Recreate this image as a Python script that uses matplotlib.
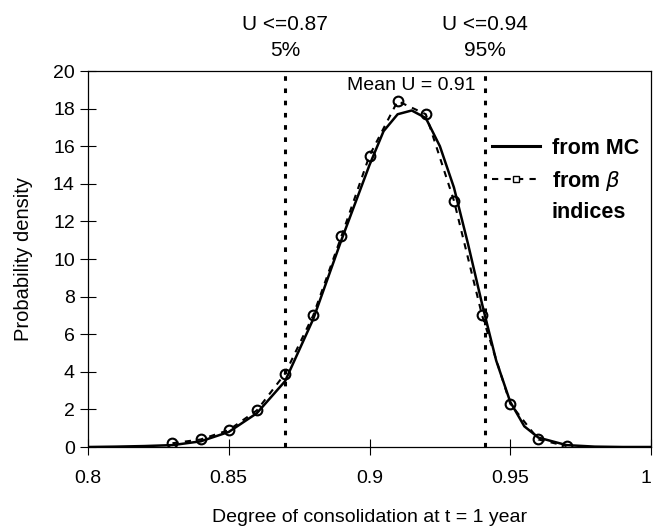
import numpy as np
import matplotlib.pyplot as plt
from matplotlib.lines import Line2D

plt.rcParams['font.family'] = ['Liberation Sans', 'DejaVu Sans']

# Monte Carlo density (solid)
u_mc = [0.80, 0.81, 0.82, 0.83, 0.84, 0.85, 0.86, 0.87, 0.88, 0.89, 0.90,
        0.905, 0.91, 0.915, 0.92, 0.925, 0.93, 0.935, 0.94, 0.945, 0.95,
        0.955, 0.96, 0.97, 0.98, 0.99, 1.00]
pdf_mc = [0.0, 0.02, 0.05, 0.1, 0.3, 0.8, 1.8, 3.5, 6.8, 11.0, 15.0,
          16.8, 17.7, 17.9, 17.5, 16.0, 13.8, 10.8, 7.6, 4.6, 2.4,
          1.1, 0.5, 0.1, 0.02, 0.0, 0.0]

# reliability-index based density (dashed with markers)
u_beta = [0.83, 0.84, 0.85, 0.86, 0.87, 0.88, 0.89, 0.90, 0.91, 0.92,
          0.93, 0.94, 0.95, 0.96, 0.97]
pdf_beta = [0.2, 0.4, 0.9, 1.95, 3.9, 7.0, 11.2, 15.5, 18.4, 17.7,
            13.1, 7.0, 2.3, 0.4, 0.05]

u5 = 0.87
u95 = 0.941

fig = plt.figure(figsize=(6.53, 5.31), dpi=100)
ax = fig.add_axes([88/653, 1 - 447/531, 563/653, 376/531])

ax.plot(u_mc, pdf_mc, color='black', lw=1.8)
ax.plot(u_beta, pdf_beta, color='black', lw=1.5, ls=(0, (3, 3)))
ax.plot(u_beta, pdf_beta, ls='none', marker='o', ms=7, mfc='none',
        mec='black', mew=1.5)

ax.axvline(u5, color='black', lw=2.2, ls=(0, (1.5, 2.5)))
ax.axvline(u95, color='black', lw=2.2, ls=(0, (1.5, 2.5)))

ax.set_xlim(0.8, 1.0)
ax.set_ylim(0, 20)
ax.set_xticks([0.8, 0.85, 0.9, 0.95, 1.0])
ax.set_xticklabels(['0.8', '0.85', '0.9', '0.95', '1'])
ax.get_xticklabels()[-1].set_ha('right')
ax.set_yticks(range(0, 21, 2))
ax.tick_params(direction='inout', length=11, labelsize=14, width=0.8)
ax.tick_params(axis='x', pad=11)
ax.tick_params(axis='y', pad=4)
for s in ax.spines.values():
    s.set_linewidth(0.9)

ax.set_xlabel('Degree of consolidation at t = 1 year', fontsize=14, labelpad=16)
ax.set_ylabel('Probability density', fontsize=14.5, labelpad=14)

ax.text(u5, 20.6, 'U <=0.87\n5%', ha='center', va='bottom', fontsize=15,
        linespacing=1.45)
ax.text(u95, 20.6, 'U <=0.94\n95%', ha='center', va='bottom', fontsize=15,
        linespacing=1.45)
ax.text(0.915, 18.8, 'Mean U = 0.91', ha='center', va='bottom', fontsize=14)

handles = [Line2D([], [], color='black', lw=2.2),
           Line2D([], [], color='black', lw=1.5, ls=(0, (3, 3)), marker='s',
                  ms=5, mfc='white', mec='black'),
           Line2D([], [], color='none')]
ax.legend(handles, ['from MC', 'from $\\beta$', 'indices'], loc='upper left',
          bbox_to_anchor=(0.703, 0.845), frameon=False, handlelength=2.2,
          handletextpad=0.55, prop={'size': 15.5, 'weight': 'bold'},
          labelspacing=0.45, borderaxespad=0)

fig.savefig('out.png', dpi=100)
